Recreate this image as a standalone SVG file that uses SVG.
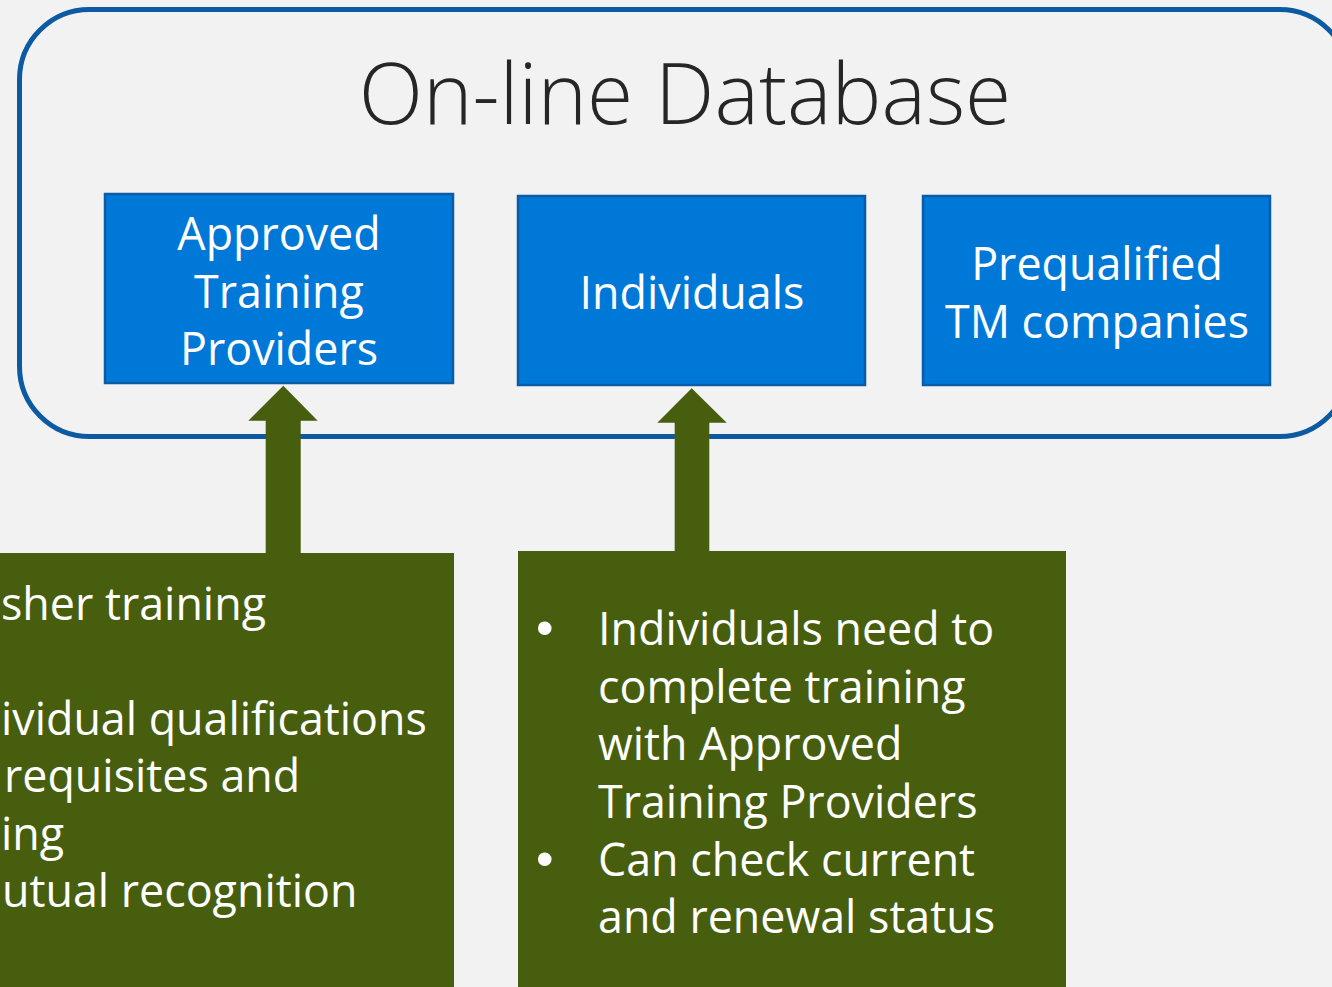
<svg xmlns="http://www.w3.org/2000/svg" width="1332" height="987" viewBox="0 0 1332 987">
<style>
.bg{fill:#F2F2F2}
.db{fill:none;stroke:#0B5AA2;stroke-width:5}
.box{fill:#0078D7;stroke:#0A5CA6;stroke-width:2.5}
.green{fill:#475E0E}
.arrow{fill:#475E0E}
.t{font-family:"Open Sans","Noto Sans","Liberation Sans",sans-serif;fill:#FFFFFF;font-size:44.8px}
.bul{font-family:"Liberation Sans",sans-serif;fill:#FFFFFF;font-size:50px}
.title{font-family:"Open Sans","Noto Sans","Liberation Sans",sans-serif;font-weight:300;fill:#262626;font-size:84px}
</style>
<rect class="bg" x="0" y="0" width="1332" height="987"/>
<g id="database">
<rect class="db" x="19.5" y="9.5" width="1330" height="427" rx="70" ry="70"/>
<text class="title" x="685" y="124" text-anchor="middle">On-line Database</text>
</g>
<g id="approved-training-providers">
<rect class="box" x="105" y="194" width="348" height="189"/>
<text class="t" text-anchor="middle" x="279"><tspan x="279" y="250">Approved</tspan><tspan x="279" y="308">Training</tspan><tspan x="279" y="365">Providers</tspan></text>
</g>
<g id="individuals">
<rect class="box" x="518" y="196" width="347" height="189"/>
<text class="t" text-anchor="middle" x="692" y="309">Individuals</text>
</g>
<g id="prequalified-tm-companies">
<rect class="box" x="923" y="196" width="347" height="189"/>
<text class="t" text-anchor="middle" x="1097"><tspan x="1097" y="280">Prequalified</tspan><tspan x="1097" y="338">TM companies</tspan></text>
</g>
<g id="connectors">
<polygon class="arrow" points="283.3,385.7 317.7,420.7 300.7,420.7 300.7,556 265.7,556 265.7,420.7 248.3,420.7"/>
<polygon class="arrow" points="691.7,388.3 726.7,422.7 709.3,422.7 709.3,556 674.7,556 674.7,422.7 657.3,422.7"/>
</g>
<g id="left-green-box">
<rect class="green" x="-10" y="553" width="464" height="440"/>
<text class="t"><tspan x="1" y="620">sher training</tspan><tspan x="1" y="735">ividual qualifications</tspan><tspan x="4" y="792">requisites and</tspan><tspan x="1" y="850">ing</tspan><tspan x="2" y="907">utual recognition</tspan></text>
</g>
<g id="right-green-box">
<rect class="green" x="518" y="551" width="548" height="440"/>
<text class="bul"><tspan x="536" y="645">•</tspan><tspan x="536" y="876">•</tspan></text>
<text class="t"><tspan x="598" y="645">Individuals need to</tspan><tspan x="598" y="703">complete training</tspan><tspan x="598" y="760">with Approved</tspan><tspan x="598" y="818">Training Providers</tspan><tspan x="598" y="876">Can check current</tspan><tspan x="598" y="933">and renewal status</tspan></text>
</g>
</svg>
